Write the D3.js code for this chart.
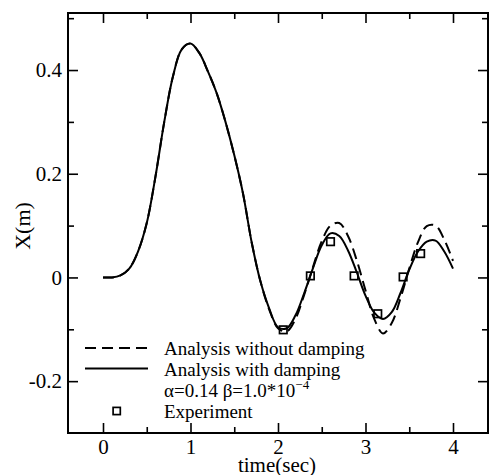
<!DOCTYPE html>
<html>
<head>
<meta charset="utf-8">
<script src="https://cdn.jsdelivr.net/npm/d3@7.9.0/dist/d3.min.js"></script>
<style>
  body { margin: 0; background: #fff; }
  svg text { font-family: "Liberation Serif", "Times New Roman", serif; fill: #000; }
</style>
</head>
<body>
<svg id="chart" width="489" height="475"></svg>
<script>
// --- data ---
const time = [0.0, 0.1, 0.2, 0.3, 0.4, 0.5, 0.6, 0.7, 0.8, 0.9,
              1.0, 1.1, 1.2, 1.3, 1.4, 1.5, 1.6, 1.7, 1.8, 1.9,
              2.0, 2.1, 2.2, 2.3, 2.4, 2.5, 2.6, 2.7, 2.8, 2.9,
              3.0, 3.1, 3.2, 3.3, 3.4, 3.5, 3.6, 3.7, 3.8, 3.9, 4.0];

// analysis without damping (dashed)
const noDamping = [0.000, 0.000, 0.004, 0.017, 0.050, 0.105, 0.195, 0.300, 0.388, 0.440,
                   0.451, 0.433, 0.397, 0.355, 0.300, 0.236, 0.162, 0.067, -0.008, -0.062,
                   -0.098, -0.104, -0.080, -0.033, 0.020, 0.070, 0.100, 0.105, 0.080, 0.033,
                   -0.025, -0.080, -0.108, -0.088, -0.040, 0.017, 0.068, 0.099, 0.100, 0.073, 0.032];

// analysis with damping (solid)
const withDamping = [0.000, 0.000, 0.004, 0.017, 0.050, 0.105, 0.195, 0.300, 0.388, 0.440,
                     0.451, 0.433, 0.397, 0.355, 0.300, 0.236, 0.162, 0.067, -0.008, -0.060,
                     -0.096, -0.098, -0.073, -0.030, 0.018, 0.062, 0.085, 0.080, 0.052, 0.010,
                     -0.035, -0.068, -0.080, -0.067, -0.030, 0.015, 0.050, 0.069, 0.071, 0.050, 0.017];

// experiment
const expTime = [2.06, 2.37, 2.60, 2.87, 3.14, 3.43, 3.63];
const expX    = [-0.101, 0.003, 0.069, 0.003, -0.070, 0.001, 0.046];

const xMajor = [0, 1, 2, 3, 4];
const xMinor = [0.5, 1.5, 2.5, 3.5];
const yMajor = [-0.2, 0, 0.2, 0.4];
const yMinor = [-0.1, 0.1, 0.3, 0.5];

// --- layout ---
const svg = d3.select('#chart');
const mLeft = 68, mRight = 488, mTop = 13, mBottom = 433;

const x = d3.scaleLinear().domain([-0.4, 4.4]).range([mLeft, mRight]);
const y = d3.scaleLinear().domain([-0.3, 0.51]).range([mBottom, mTop]);

const fmt = d => d === 0 ? '0' : d.toFixed(1);

// ticks (all inward)
function ticks(axisFn, scale, values, size, transform, labels) {
  const a = axisFn(scale).tickValues(values).tickSize(-size).tickSizeOuter(0).tickPadding(6);
  a.tickFormat(labels ? (axisFn === d3.axisBottom ? d3.format('d') : fmt) : () => '');
  const g = svg.append('g').attr('transform', transform).call(a);
  g.attr('font-family', null).attr('font-size', null);
  g.select('.domain').remove();
  g.selectAll('line').attr('stroke', '#000').attr('stroke-width', 1.6);
  g.selectAll('text').style('font-size', '21px');
}

ticks(d3.axisBottom, x, xMajor, 10, `translate(0,${mBottom})`, true);
ticks(d3.axisBottom, x, xMinor, 6, `translate(0,${mBottom})`, false);
ticks(d3.axisTop, x, xMajor, 10, `translate(0,${mTop})`, false);
ticks(d3.axisTop, x, xMinor, 6, `translate(0,${mTop})`, false);
ticks(d3.axisLeft, y, yMajor, 10, `translate(${mLeft},0)`, true);
ticks(d3.axisLeft, y, yMinor, 6, `translate(${mLeft},0)`, false);
ticks(d3.axisRight, y, yMajor, 10, `translate(${mRight},0)`, false);
ticks(d3.axisRight, y, yMinor, 6, `translate(${mRight},0)`, false);

// frame
svg.append('rect')
  .attr('x', mLeft).attr('y', mTop)
  .attr('width', mRight - mLeft).attr('height', mBottom - mTop)
  .attr('fill', 'none').attr('stroke', '#000').attr('stroke-width', 2);

// curves
const line = d3.line()
  .x((d, i) => x(time[i]))
  .y(d => y(d))
  .curve(d3.curveCatmullRom.alpha(0.5));

svg.append('path')
  .attr('d', line(noDamping))
  .attr('fill', 'none').attr('stroke', '#000').attr('stroke-width', 2)
  .attr('stroke-dasharray', '11,6');

svg.append('path')
  .attr('d', line(withDamping))
  .attr('fill', 'none').attr('stroke', '#000').attr('stroke-width', 2);

// experiment squares
const sq = 7.5;
svg.append('g').selectAll('rect')
  .data(expTime)
  .join('rect')
  .attr('x', (d) => x(d) - sq / 2)
  .attr('y', (d, i) => y(expX[i]) - sq / 2)
  .attr('width', sq).attr('height', sq)
  .attr('fill', 'none').attr('stroke', '#000').attr('stroke-width', 1.7);

// axis titles
svg.append('text')
  .attr('x', 277).attr('y', 472)
  .attr('text-anchor', 'middle').style('font-size', '21px')
  .text('time(sec)');

svg.append('text')
  .attr('transform', 'translate(30,226) rotate(-90)')
  .attr('text-anchor', 'middle').style('font-size', '22px')
  .text('X(m)');

// legend
const lg = svg.append('g').style('font-size', '19px');
lg.append('line').attr('x1', 85).attr('x2', 148).attr('y1', 348).attr('y2', 348)
  .attr('stroke', '#000').attr('stroke-width', 2).attr('stroke-dasharray', '11,6');
lg.append('text').attr('x', 164).attr('y', 355).text('Analysis without damping');

lg.append('line').attr('x1', 85).attr('x2', 148).attr('y1', 368.5).attr('y2', 368.5)
  .attr('stroke', '#000').attr('stroke-width', 2);
lg.append('text').attr('x', 164).attr('y', 376).text('Analysis with damping');

const t3 = lg.append('text').attr('x', 164).attr('y', 397);
t3.append('tspan').text('α=0.14 β=1.0*10');
t3.append('tspan').style('font-size', '13px').attr('dy', -8).text('−4');

lg.append('rect').attr('x', 116.7 - 3.6).attr('y', 411 - 3.6).attr('width', 7.2).attr('height', 7.2)
  .attr('fill', 'none').attr('stroke', '#000').attr('stroke-width', 1.7);
lg.append('text').attr('x', 164).attr('y', 418).text('Experiment');
</script>
</body>
</html>
